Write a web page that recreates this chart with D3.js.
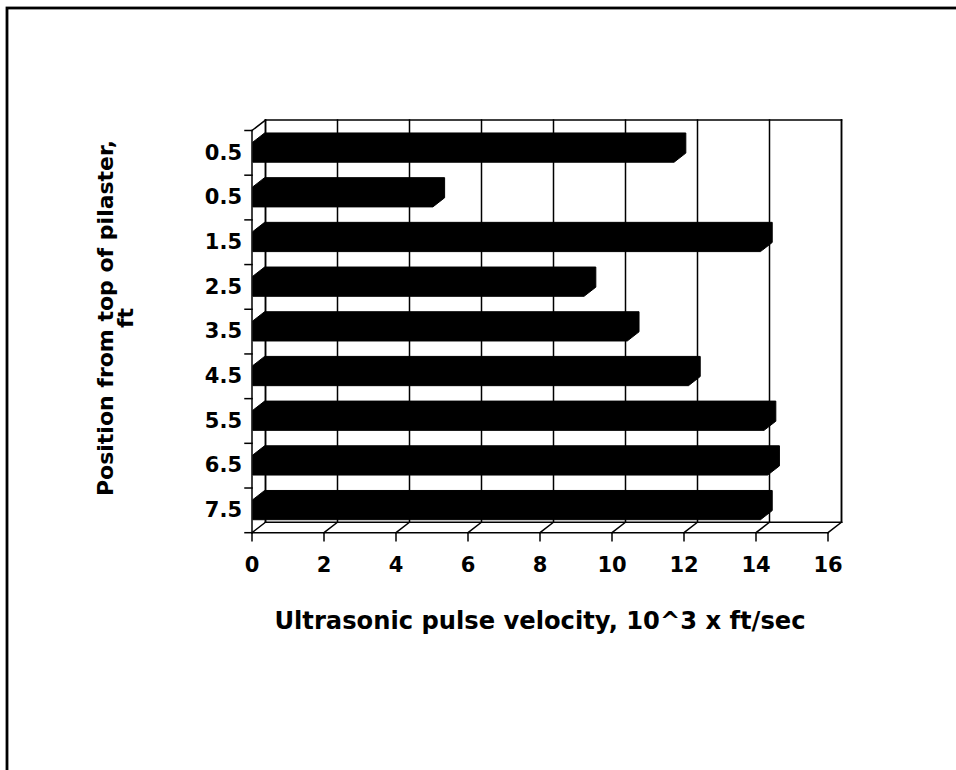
<!DOCTYPE html>
<html>
<head>
<meta charset="utf-8">
<script src="https://cdn.jsdelivr.net/npm/d3@7"></script>
<style>
  html, body { margin: 0; padding: 0; background: #fff; }
  svg text { font-family: "DejaVu Sans", Verdana, sans-serif; font-weight: bold; fill: #000; }
</style>
</head>
<body>
<svg id="chart" width="956" height="770"></svg>
<script>
// ---- data ----
const categories = ["0.5", "0.5", "1.5", "2.5", "3.5", "4.5", "5.5", "6.5", "7.5"];
const velocities = [11.7, 5.0, 14.1, 9.2, 10.4, 12.1, 14.2, 14.3, 14.1];
const xTicks = [0, 2, 4, 6, 8, 10, 12, 14, 16];
const xTitle = "Ultrasonic pulse velocity, 10^3 x ft/sec";
const yTitleLines = ["Position from top of pilaster,", "ft"];

// ---- layout ----
const svg = d3.select("#chart");
const DX = 13.5, DY = -10.5;          // full depth vector (3-D look)
const z1 = 0.065, z2 = 0.935;         // bar depth span
const x = d3.scaleLinear().domain([0, 16]).range([252, 828]);
const y = d3.scaleBand().domain(d3.range(categories.length)).range([130.5, 532.7]);
const barFrac = 0.45;

// outer frame
svg.append("rect").attr("x", 7).attr("y", 8).attr("width", 1200).attr("height", 1200)
  .attr("fill", "none").attr("stroke", "#000").attr("stroke-width", 2.8);

const g = svg.append("g").attr("stroke-linecap", "square");
const x0 = x(0), x16 = x(16), yTop = y.range()[0], yBot = y.range()[1];
const line = (a, b, c, d) => g.append("line").attr("x1", a).attr("y1", b).attr("x2", c).attr("y2", d)
  .attr("stroke", "#000").attr("stroke-width", 1.5);

// back wall outline
line(x0 + DX, yTop + DY, x16 + DX, yTop + DY);
line(x16 + DX, yTop + DY, x16 + DX, yBot + DY);
line(x0 + DX, yBot + DY, x16 + DX, yBot + DY);
// back wall gridlines + floor gridlines
xTicks.forEach(t => {
  line(x(t) + DX, yTop + DY, x(t) + DX, yBot + DY);
  line(x(t), yBot, x(t) + DX, yBot + DY);
});
// left side wall
line(x0, yTop, x0, yBot);
line(x0 + DX, yTop + DY, x0 + DX, yBot + DY);
line(x0, yTop, x0 + DX, yTop + DY);
// floor front edge (value axis)
line(x0, yBot, x16, yBot);

// value axis ticks
xTicks.forEach(t => line(x(t), yBot, x(t), yBot + 8));
// category axis ticks
d3.range(categories.length + 1).forEach(i => {
  const yy = i < categories.length ? y(i) : yBot;
  line(x0 - 7, yy, x0, yy);
});

// bars
const bars = svg.append("g");
categories.forEach((c, i) => {
  const bh = y.bandwidth() * barFrac;
  const yt = y(i) + (y.bandwidth() - bh) / 2;
  const yb = yt + bh;
  const xs = x(0), xe = x(velocities[i]);
  const pts = [
    [xs + z1 * DX, yb + z1 * DY],
    [xs + z1 * DX, yt + z1 * DY],
    [xs + z2 * DX, yt + z2 * DY],
    [xe + z2 * DX, yt + z2 * DY],
    [xe + z2 * DX, yb + z2 * DY],
    [xe + z1 * DX, yb + z1 * DY]
  ];
  bars.append("polygon").attr("points", pts.map(p => p.join(",")).join(" "))
    .attr("fill", "#000").attr("stroke", "#000").attr("stroke-width", 1);
});

// category labels
svg.append("g").selectAll("text").data(categories).join("text")
  .attr("x", 242).attr("y", (d, i) => y(i) + y.bandwidth() / 2 + 6.8)
  .attr("text-anchor", "end")
  .attr("font-size", 21).text(d => d);

// value labels
svg.append("g").selectAll("text").data(xTicks).join("text")
  .attr("x", d => x(d)).attr("y", 571.5)
  .attr("text-anchor", "middle").attr("font-size", 21).text(d => d);

// axis titles
svg.append("text").attr("x", 540).attr("y", 629).attr("text-anchor", "middle")
  .attr("font-size", 24.2).text(xTitle);

const yt = svg.append("text").attr("transform", "translate(113,318) rotate(-90)")
  .attr("text-anchor", "middle").attr("font-size", 22);
yt.append("tspan").attr("x", 0).attr("dy", 0).text(yTitleLines[0]);
yt.append("tspan").attr("x", 0).attr("dy", 20).text(yTitleLines[1]);
</script>
</body>
</html>
